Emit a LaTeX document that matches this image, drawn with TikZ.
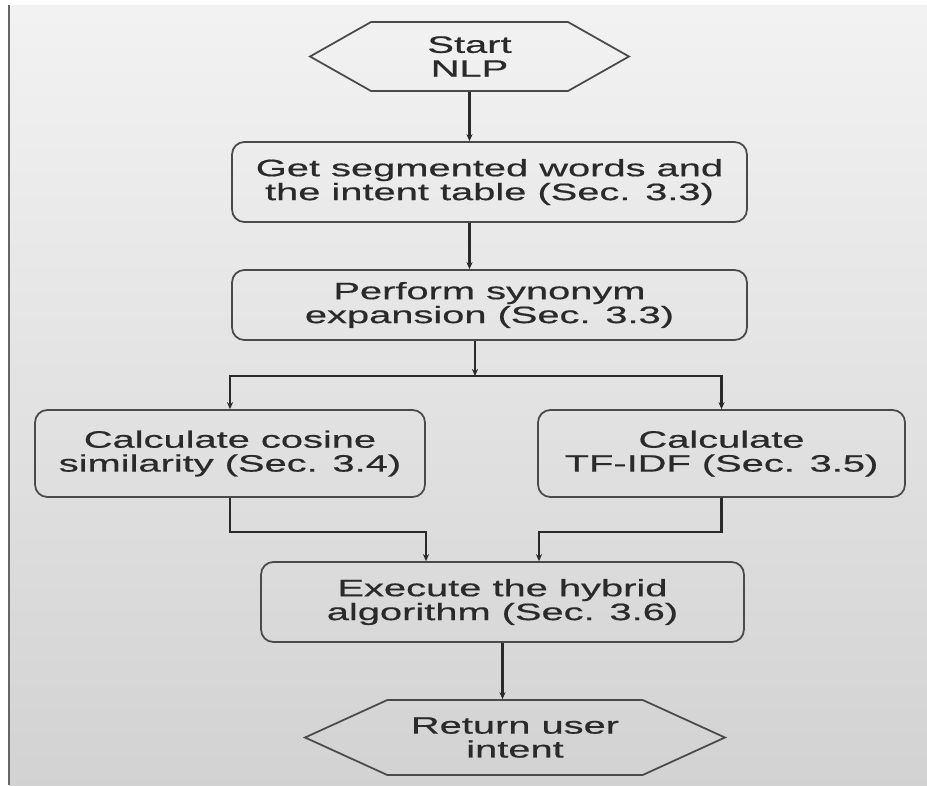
\documentclass[tikz,border=0pt]{standalone}
\usepackage{fontspec}
\setmainfont{Liberation Sans}[FakeStretch=1.68,FakeBold=0.6]
\usetikzlibrary{arrows.meta,shapes.symbols}
\definecolor{ink}{HTML}{2A2A2A}
\begin{document}
\begin{tikzpicture}[x=0.02cm,y=-0.02cm,
	box/.style={draw=ink!85,line width=1pt,rounded corners=7pt,align=center,text=ink,
		font=\fontsize{13.5}{13.6}\selectfont},
	hexa/.style={draw=ink!85,line width=1pt,signal,signal to=east and west,align=center,text=ink,
		font=\fontsize{13.5}{13.6}\selectfont,inner sep=0pt},
	arr/.style={draw=ink,line width=1.2pt,-{Stealth[length=4pt,width=3.5pt]}}]
	
	\useasboundingbox (0,0) rectangle (927,785);
	\fill[white] (0,0) rectangle (927,785);
	\shade[top color=gray!10,bottom color=gray!35] (9,5) rectangle (927,785);
	\draw[black!60,line width=0.9pt] (9,5) -- (9,785);
	
	\node[hexa,signal pointer angle=59,minimum width=6.38cm,minimum height=1.38cm] (start) at (469.5,56.5) {Start\\NLP};
	\node[box,minimum width=10.3cm,minimum height=1.6cm] (words) at (489.5,182) {Get segmented words and\\the intent table (Sec. 3.3)};
	\node[box,minimum width=10.3cm,minimum height=1.4cm] (synonym) at (489.5,305) {Perform synonym\\expansion (Sec. 3.3)};
	\node[box,minimum width=7.8cm,minimum height=1.74cm] (cosine) at (230,453.5) {Calculate cosine\\similarity (Sec. 3.4)};
	\node[box,minimum width=7.34cm,minimum height=1.74cm] (tfidf) at (721.5,453.5) {Calculate\\TF-IDF (Sec. 3.5)};
	\node[box,minimum width=9.66cm,minimum height=1.6cm] (hybrid) at (502.5,602) {Execute the hybrid\\algorithm (Sec. 3.6)};
	\node[hexa,signal pointer angle=49,minimum width=8.4cm,minimum height=1.5cm] (intent) at (515,737.5) {Return user\\intent};
	
	\coordinate (split) at (475,376);
	\coordinate (mergeL) at (426,532);
	\coordinate (mergeR) at (539,532);
	
	\draw[arr] (start.south) -- (start.south |- words.north);
	\draw[arr] (start.south |- words.south) -- (start.south |- synonym.north);
	\draw[arr] (split |- synonym.south) -- (split);
	\draw[arr] (split) -| (cosine.north);
	\draw[arr] (split) -| (tfidf.north);
	\draw[arr] (cosine.south) |- (mergeL) -- (mergeL |- hybrid.north);
	\draw[arr] (tfidf.south) |- (mergeR) -- (mergeR |- hybrid.north);
	\draw[arr] (hybrid.south) -- (hybrid.south |- intent.north);
\end{tikzpicture}
\end{document}
